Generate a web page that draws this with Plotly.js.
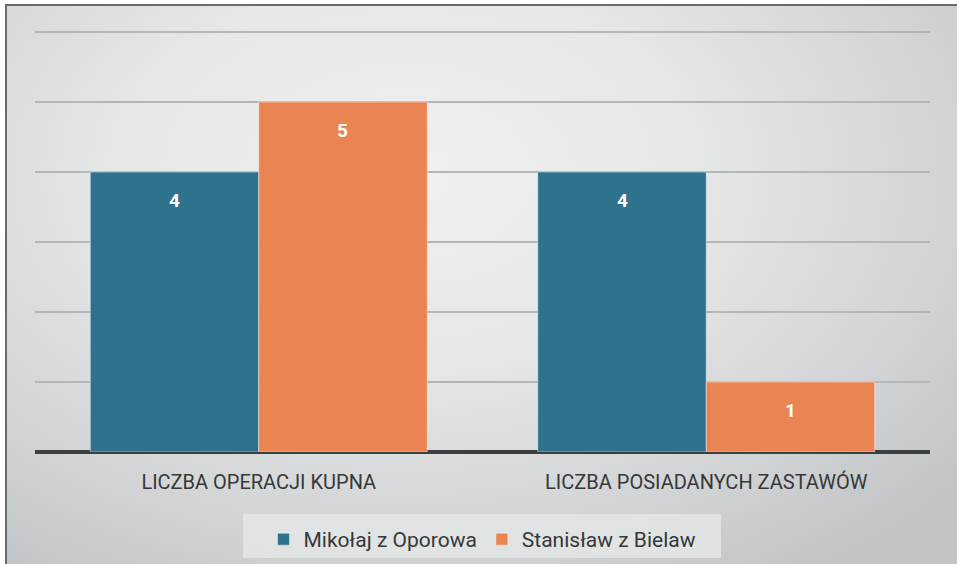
<!DOCTYPE html>
<html>
<head>
<meta charset="utf-8">
<script src="https://cdn.plot.ly/plotly-3.0.1.min.js"></script>
<style>
  html, body { margin: 0; padding: 0; width: 957px; height: 564px; overflow: hidden; background: #ffffff; }
  #frame { position: absolute; left: 5px; top: 4px; width: 952px; height: 560px;
           border-left: 2px solid #6a6a6a; border-top: 2px solid #6a6a6a;
           background: radial-gradient(ellipse 75% 85% at 42% 30%, #f0f0f0 0%, #e6e7e7 40%, #d2d4d5 75%, #c2c5c7 100%); }
  #chart { position: absolute; left: 0; top: 0; width: 957px; height: 564px; }
</style>
</head>
<body>
<div id="frame"></div>
<div id="chart"></div>
<script>
const categories = ["LICZBA OPERACJI KUPNA", "LICZBA POSIADANYCH ZASTAWÓW"];
const seriesNames = ["Mikołaj z Oporowa", "Stanisław z Bielaw"];
const mikolaj = [4, 4];
const stanislaw = [5, 1];
const colors = ["#2e728e", "#ea8553"];

const seriesValues = [mikolaj, stanislaw];
const traces = seriesValues.map((vals, i) => ({
  type: "bar",
  name: seriesNames[i],
  x: categories,
  y: vals,
  marker: { color: colors[i], line: { color: "rgba(255,255,255,0.45)", width: 1 } },
  hoverinfo: "skip"
}));

// value labels placed through the axis scales
const barShift = [-84, 84];
const annotations = [];
seriesValues.forEach((vals, i) => {
  vals.forEach((v, j) => {
    annotations.push({
      x: categories[j], y: v, xref: "x", yref: "y",
      text: "<b>" + v + "</b>", showarrow: false,
      xshift: barShift[i], yshift: -28, yanchor: "middle",
      font: { family: "Roboto, 'Noto Sans', sans-serif", size: 19, color: "#ffffff" }
    });
  });
});

const plotH = 422;
const layout = {
  width: 957, height: 564,
  margin: { l: 35, r: 27, t: 30, b: 112, autoexpand: false },
  paper_bgcolor: "rgba(0,0,0,0)",
  plot_bgcolor: "rgba(0,0,0,0)",
  barmode: "group",
  bargap: 0.247,
  bargroupgap: 0,
  showlegend: true,
  xaxis: {
    type: "category",
    showgrid: false,
    zeroline: false,
    showline: false,
    ticks: "",
    ticklabelstandoff: 16,
    automargin: false,
    tickfont: { family: "Roboto, 'Noto Sans', sans-serif", size: 20, color: "#36383a" }
  },
  yaxis: {
    range: [0, 6 * plotH / 420],
    tick0: 0,
    dtick: 1,
    showticklabels: false,
    showgrid: true,
    gridcolor: "#b3b7b9",
    gridwidth: 1.5,
    zeroline: true,
    zerolinecolor: "#3a3f42",
    zerolinewidth: 3.5,
    automargin: false,
    fixedrange: true
  },
  shapes: [{
    type: "rect", xref: "paper", yref: "paper", layer: "below",
    x0: 0.2324, x1: 0.7665, y0: -0.1469, y1: -0.2512,
    fillcolor: "rgba(228,230,230,0.85)", line: { width: 0 }
  }],
  legend: {
    orientation: "h",
    x: 0.5, xanchor: "center",
    y: -0.1588, yanchor: "top",
    bgcolor: "rgba(0,0,0,0)",
    borderwidth: 0,
    itemwidth: 30,
    font: { family: "Roboto, 'Noto Sans', sans-serif", size: 21, color: "#36383a" },
    traceorder: "normal"
  },
  annotations: annotations
};

Plotly.newPlot("chart", traces, layout, { displayModeBar: false, staticPlot: true });
</script>
</body>
</html>
